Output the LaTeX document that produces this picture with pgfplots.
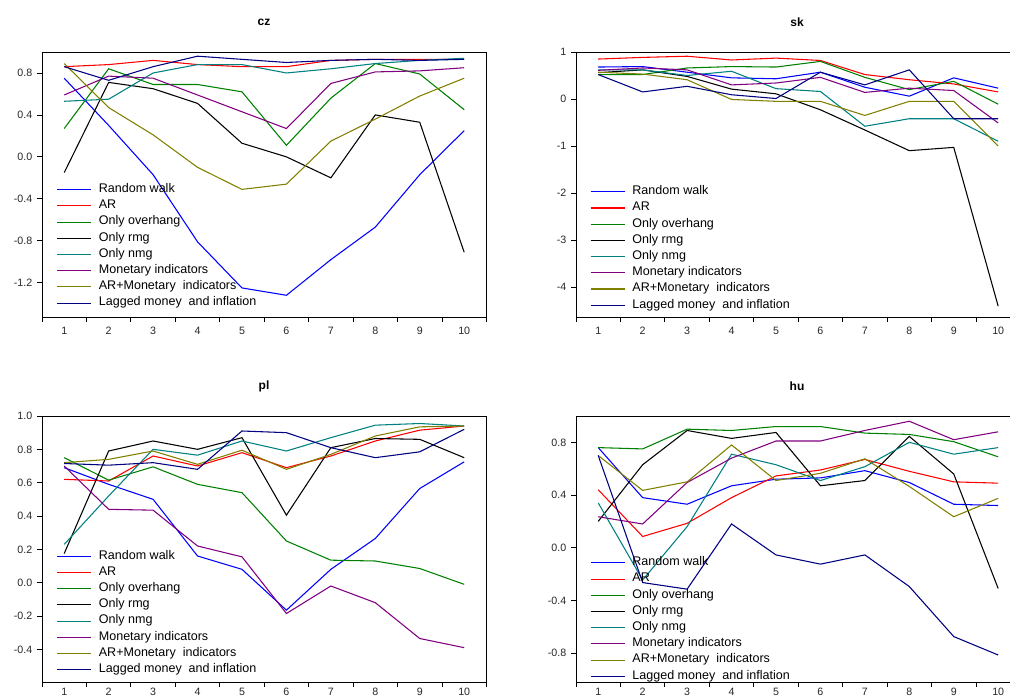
\documentclass[border=0pt]{standalone}
\usepackage{fontspec}
\setmainfont{Liberation Sans}
\usepackage{pgfplots}
\usepackage{pgfplotstable}
\pgfplotsset{compat=1.18}

\definecolor{cRW}{RGB}{0,0,255}
\definecolor{cAR}{RGB}{255,0,0}
\definecolor{cOVH}{RGB}{0,128,0}
\definecolor{cRMG}{RGB}{0,0,0}
\definecolor{cNMG}{RGB}{0,128,128}
\definecolor{cMON}{RGB}{128,0,128}
\definecolor{cARM}{RGB}{128,128,0}
\definecolor{cLAG}{RGB}{0,0,128}

% columns: horizon, random walk, AR, overhang, rmg, nmg, monetary, AR+monetary, lagged
\pgfplotstableread{
x rw ar ovh rmg nmg mon arm lag
1 0.75 0.86 0.27 -0.15 0.53 0.59 0.89 0.86
2 0.30 0.88 0.84 0.71 0.55 0.77 0.47 0.73
3 -0.17 0.92 0.69 0.65 0.80 0.75 0.21 0.86
4 -0.81 0.88 0.69 0.51 0.88 0.59 -0.10 0.96
5 -1.25 0.86 0.62 0.13 0.88 0.43 -0.31 0.93
6 -1.32 0.86 0.11 0.00 0.80 0.27 -0.26 0.90
7 -0.98 0.92 0.56 -0.20 0.84 0.70 0.15 0.92
8 -0.67 0.93 0.89 0.40 0.89 0.81 0.36 0.93
9 -0.17 0.93 0.79 0.33 0.92 0.82 0.58 0.92
10 0.25 0.93 0.45 -0.91 0.94 0.85 0.75 0.93
}\cz

\pgfplotstableread{
x rw ar ovh rmg nmg mon arm lag
1 0.68 0.85 0.52 0.56 0.62 0.61 0.57 0.52
2 0.69 0.885 0.52 0.62 0.62 0.66 0.53 0.15
3 0.57 0.91 0.66 0.48 0.50 0.62 0.41 0.27
4 0.45 0.83 0.69 0.21 0.59 0.30 -0.01 0.09
5 0.43 0.87 0.68 0.11 0.22 0.34 -0.05 0.01
6 0.57 0.82 0.80 -0.23 0.16 0.46 -0.05 0.57
7 0.25 0.52 0.46 -0.66 -0.58 0.14 -0.35 0.30
8 0.06 0.41 0.20 -1.10 -0.42 0.23 -0.05 0.62
9 0.45 0.32 0.375 -1.03 -0.42 0.18 -0.05 -0.42
10 0.23 0.15 -0.11 -4.41 -0.90 -0.51 -1.00 -0.42
}\sk

\pgfplotstableread{
x rw ar ovh rmg nmg mon arm lag
1 0.69 0.62 0.75 0.175 0.23 0.70 0.72 0.715
2 0.59 0.61 0.615 0.79 0.52 0.44 0.74 0.705
3 0.50 0.76 0.695 0.85 0.80 0.435 0.79 0.72
4 0.16 0.70 0.59 0.80 0.765 0.22 0.71 0.68
5 0.08 0.78 0.54 0.87 0.85 0.155 0.795 0.91
6 -0.165 0.69 0.25 0.405 0.79 -0.185 0.68 0.90
7 0.08 0.76 0.135 0.81 0.87 -0.02 0.77 0.81
8 0.265 0.85 0.13 0.865 0.945 -0.12 0.88 0.75
9 0.565 0.915 0.085 0.86 0.955 -0.335 0.935 0.785
10 0.725 0.94 -0.01 0.75 0.94 -0.39 0.94 0.92
}\pl

\pgfplotstableread{
x rw ar ovh rmg nmg mon arm lag
1 0.76 0.44 0.76 0.20 0.34 0.235 0.70 0.70
2 0.38 0.085 0.75 0.63 -0.245 0.18 0.435 -0.265
3 0.33 0.185 0.90 0.89 0.16 0.495 0.50 -0.315
4 0.47 0.38 0.89 0.83 0.71 0.68 0.78 0.18
5 0.52 0.545 0.92 0.875 0.63 0.81 0.51 -0.055
6 0.53 0.59 0.92 0.47 0.51 0.81 0.565 -0.125
7 0.585 0.67 0.87 0.51 0.615 0.89 0.675 -0.055
8 0.495 0.58 0.86 0.845 0.80 0.96 0.465 -0.295
9 0.33 0.50 0.805 0.56 0.71 0.82 0.235 -0.675
10 0.32 0.49 0.69 -0.31 0.76 0.88 0.375 -0.815
}\hu

\pgfplotsset{
  evpanel/.style={
    scale only axis, width=333.3pt, height=199pt,
    xmin=0.5, xmax=10.5,
    xtick={0.5,1.5,...,10.5}, xticklabels={},
    extra x ticks={1,2,3,4,5,6,7,8,9,10},
    extra x tick labels={1,2,3,4,5,6,7,8,9,10},
    extra x tick style={major tick length=0pt,
      xticklabel style={anchor=center, yshift=-10.5pt}},
    xtick pos=bottom, ytick pos=left,
    tick align=outside, major tick length=3.75pt,
    tick style={black, line width=0.6pt},
    axis line style={black, line width=0.7pt},
    tick label style={font=\fontsize{8}{9}\selectfont, text=black!85},
    /pgf/number format/assume math mode=true,
    every axis plot/.append style={line width=0.8pt, no marks},
    legend cell align=left,
    legend style={draw=none, fill=none, anchor=north west,
      font=\fontsize{9.4}{10}\selectfont, column sep=5.5pt, row sep=0pt,
      nodes={inner sep=0pt, text height=8.2pt, text depth=3.95pt}},
    legend image code/.code={\draw[##1] (0pt,0pt) -- (25.5pt,0pt);},
  },
  onedec/.style={yticklabel style={/pgf/number format/.cd, fixed, fixed zerofill, precision=1}},
  % lower row: tick numbers a little higher so they stay on the page
  lowrow/.style={extra x tick style={xticklabel style={yshift=3pt}}},
}

\newcommand{\allseries}[1]{%
  \addplot[cRW] table[x=x,y=rw]{#1};
  \addplot[cAR] table[x=x,y=ar]{#1};
  \addplot[cOVH] table[x=x,y=ovh]{#1};
  \addplot[cRMG] table[x=x,y=rmg]{#1};
  \addplot[cNMG] table[x=x,y=nmg]{#1};
  \addplot[cMON] table[x=x,y=mon]{#1};
  \addplot[cARM] table[x=x,y=arm]{#1};
  \addplot[cLAG] table[x=x,y=lag]{#1};
  \legend{Random walk, AR, Only overhang, Only rmg, Only nmg,
    Monetary indicators, AR+Monetary\ \ indicators, Lagged money\ \ and inflation}
}

\begin{document}
\begin{tikzpicture}
\useasboundingbox (0,0) rectangle (757.5pt,-523.5pt);
\clip (0,0) rectangle (757.5pt,-523.5pt);

\begin{axis}[evpanel, onedec, at={(31.5pt,-237.75pt)}, anchor=south west,
  height=198.75pt, ymin=-1.527, ymax=1.0, ytick={-1.2,-0.8,...,0.81},
  legend style={at={(0.023,0.522)}}]
  \allseries{\cz}
\end{axis}

\begin{axis}[evpanel, at={(432pt,-237.75pt)}, anchor=south west,
  height=198.75pt, ymin=-4.64, ymax=1.0, ytick={-4,-3,-2,-1,0,1},
  legend style={at={(0.022,0.514)}}]
  \allseries{\sk}
\end{axis}

\begin{axis}[evpanel, onedec, lowrow, at={(31.5pt,-511.5pt)}, anchor=south west,
  height=199.5pt, ymin=-0.596, ymax=1.0, ytick={-0.4,-0.2,...,1.01},
  legend style={at={(0.023,0.514)}}]
  \allseries{\pl}
\end{axis}

\begin{axis}[evpanel, onedec, lowrow, at={(432pt,-511.5pt)}, anchor=south west,
  height=199.5pt, ymin=-1.02, ymax=1.0, ytick={-0.8,-0.4,...,0.81},
  legend style={at={(0.022,0.489)}}]
  \allseries{\hu}
\end{axis}

\node[font=\bfseries\fontsize{9}{10}\selectfont] at (198pt,-16.5pt) {cz};
\node[font=\bfseries\fontsize{9}{10}\selectfont] at (597.75pt,-16.5pt) {sk};
\node[font=\bfseries\fontsize{9}{10}\selectfont] at (198pt,-289.5pt) {pl};
\node[font=\bfseries\fontsize{9}{10}\selectfont] at (597.75pt,-289.5pt) {hu};
\end{tikzpicture}
\end{document}
